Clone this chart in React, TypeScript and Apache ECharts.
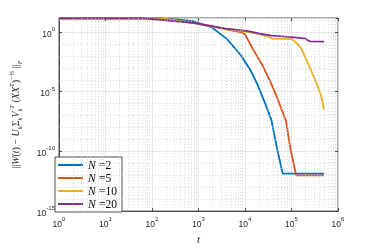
import React, { useEffect, useRef } from 'react';
import * as echarts from 'echarts';

const seriesNames = ['N=2', 'N=5', 'N=10', 'N=20'];
const seriesColors = ['#0072BD', '#D95319', '#EDB120', '#7E2F8E'];

const tN2 = [1, 100, 300, 760, 1950, 4000, 8100, 13200, 18200, 26900, 37200, 47900, 64600, 500000];
const vN2 = [14, 14, 12, 8.1, 2.4, 0.28, 1.2e-2, 5.9e-4, 4.7e-5, 1.1e-6, 3.8e-8, 2.5e-10, 1.4e-12, 1.4e-12];

const tN5 = [1, 100, 200, 870, 3600, 8100, 10000, 14500, 23400, 33900, 47900, 75900, 95500, 126000, 500000];
const vN5 = [14, 14, 12.6, 5.4, 1.8, 1.0, 0.63, 4.3e-2, 1.8e-3, 9.3e-5, 4.0e-6, 3.8e-8, 1.4e-10, 1.0e-12, 1.0e-12];

const tN10 = [1, 100, 200, 870, 3600, 9300, 20000, 30900, 38900, 102000, 126000, 162000, 263000, 372000, 437000, 500000];
const vN10 = [14, 14, 12.6, 5.4, 1.9, 1.15, 0.71, 0.42, 0.28, 0.26, 0.126, 4.3e-2, 6.3e-4, 2.5e-5, 4.0e-6, 3.2e-7];

const tN20 = [1, 63, 130, 760, 3600, 11500, 20900, 37200, 102000, 200000, 229000, 251000, 500000];
const vN20 = [14, 14, 11.2, 6.0, 2.0, 1.2, 0.72, 0.5, 0.37, 0.28, 0.19, 0.166, 0.155];

const xMinExp = 0;
const xMaxExp = 6;
const yMinExp = -15;
const yMax = 15;
const minorMultipliers = [2, 3, 4, 5, 6, 7, 8, 9];

const AX = '#262626';

export default function App() {
  const ref = useRef<HTMLDivElement>(null);
  useEffect(() => {
    const chart = echarts.init(ref.current!, null, { renderer: 'svg' });
    const toLog = (t: number[], v: number[]) => t.map((x, i) => [Math.log10(x), Math.log10(v[i])]);
    const allT = [tN2, tN5, tN10, tN20];
    const allV = [vN2, vN5, vN10, vN20];
    const yMaxExp = Math.log10(yMax);

    const xMinor: number[] = [];
    for (let n = xMinExp; n < xMaxExp; n++) {
      minorMultipliers.forEach((k) => xMinor.push(Math.log10(k * Math.pow(10, n))));
    }
    const yMinor: number[] = [];
    for (let e = yMinExp + 1; e <= Math.floor(yMaxExp); e++) {
      if (e % 5 !== 0) yMinor.push(e);
    }

    const isInt = (v: number) => Math.abs(v - Math.round(v)) < 1e-6;
    const tickFmt = (v: number) => (isInt(v) ? `{b|10}{s|${Math.round(v)}}` : '');
    const tickRich = {
      b: { fontFamily: 'Liberation Sans', fontSize: 8.5, color: AX, lineHeight: 12, verticalAlign: 'bottom' },
      s: { fontFamily: 'Liberation Sans', fontSize: 6, color: AX, lineHeight: 8, verticalAlign: 'top' },
    };

    const serif = 'Liberation Serif';
    const nameRich = {
      n: { fontFamily: serif, fontSize: 10, color: AX, lineHeight: 15 },
      i: { fontFamily: serif, fontStyle: 'italic', fontSize: 10, color: AX, lineHeight: 15 },
      sb: { fontFamily: serif, fontStyle: 'italic', fontSize: 6.5, color: AX, lineHeight: 8, verticalAlign: 'bottom' },
      sp: { fontFamily: serif, fontStyle: 'italic', fontSize: 6.5, color: AX, lineHeight: 8, verticalAlign: 'top' },
    };

    const series: any[] = [
      {
        name: 'grid',
        type: 'line',
        data: [],
        z: 1,
        silent: true,
        markLine: {
          silent: true,
          symbol: ['none', 'none'],
          label: { show: false },
          lineStyle: { type: [1, 2], color: '#c8c8c8', width: 0.7 },
          emphasis: { disabled: true },
          data: [
            ...xMinor.map((x) => ({ xAxis: x })),
            ...yMinor.map((y) => ({ yAxis: y })),
          ],
        },
      },
      ...seriesNames.map((name, i) => ({
        name,
        type: 'line',
        data: toLog(allT[i], allV[i]),
        symbol: 'none',
        z: 3,
        lineStyle: { color: seriesColors[i], width: 1.8 },
        itemStyle: { color: seriesColors[i] },
      })),
    ];

    chart.setOption({
      animation: false,
      grid: {
        left: 48, right: 36, top: 18, bottom: 30, containLabel: false,
        show: true, borderColor: AX, borderWidth: 0.8, backgroundColor: 'transparent',
      },
      xAxis: [
        {
          type: 'value', min: xMinExp, max: xMaxExp, interval: 1,
          name: 't', nameLocation: 'middle', nameGap: 21,
          nameTextStyle: { fontFamily: serif, fontStyle: 'italic', fontSize: 11, color: AX },
          axisLine: { show: true, onZero: false, lineStyle: { color: AX, width: 0.8 } },
          axisTick: { show: true, inside: true, length: 3, lineStyle: { color: AX, width: 0.8 } },
          axisLabel: { formatter: tickFmt, rich: tickRich, margin: 5 },
          splitLine: { show: true, lineStyle: { color: '#e2e2e2', width: 0.8 } },
        },
        {
          type: 'value', min: xMinExp, max: xMaxExp, interval: 1, position: 'top',
          axisLine: { show: false, onZero: false },
          axisTick: { show: true, inside: true, length: 3, lineStyle: { color: AX, width: 0.8 } },
          axisLabel: { show: false }, splitLine: { show: false },
        },
      ],
      yAxis: [
        {
          type: 'value', min: yMinExp, max: yMaxExp, interval: 5,
          name: '{n|||}{i|W}{n|(}{i|t}{n|) − }{i|U}{sb|k}{n|Σ}{sb|k}{i|V}{sb|k}{sp|T}{n| (}{i|XX}{sp|T}{n|)}{sp|−½}{n| ||}{sb|F}',
          nameLocation: 'middle', nameGap: 36, nameRotate: 90,
          nameTextStyle: { rich: nameRich },
          axisLine: { show: true, onZero: false, lineStyle: { color: AX, width: 0.8 } },
          axisTick: { show: true, inside: true, length: 3, lineStyle: { color: AX, width: 0.8 } },
          axisLabel: { formatter: tickFmt, rich: tickRich, margin: 4, showMaxLabel: false },
          splitLine: { show: true, lineStyle: { color: '#e2e2e2', width: 0.8 } },
        },
        {
          type: 'value', min: yMinExp, max: yMaxExp, interval: 5, position: 'right',
          axisLine: { show: false, onZero: false },
          axisTick: { show: true, inside: true, length: 3, lineStyle: { color: AX, width: 0.8 } },
          axisLabel: { show: false }, splitLine: { show: false },
        },
      ],
      legend: {
        data: seriesNames, orient: 'vertical', left: 55, top: 157,
        itemWidth: 25, itemHeight: 10, itemGap: 1, padding: [2, 5, 2, 2],
        backgroundColor: '#ffffff', borderColor: AX, borderWidth: 0.8, borderRadius: 0,
        itemStyle: { opacity: 0, borderWidth: 0 },
        lineStyle: { width: 2 },
        formatter: (name: string) => `{i|N} {r|=${name.split('=')[1]}}`,
        textStyle: {
          lineHeight: 11,
          rich: {
            i: { fontFamily: serif, fontStyle: 'italic', fontSize: 11.5, color: '#000', lineHeight: 11 },
            r: { fontFamily: serif, fontSize: 11.5, color: '#000', lineHeight: 11 },
          },
        },
      },
      series,
    });
    return () => chart.dispose();
  }, []);
  return <div ref={ref} style={{ position: 'fixed', left: 0, top: 0, width: 374, height: 249 }} />;
}
